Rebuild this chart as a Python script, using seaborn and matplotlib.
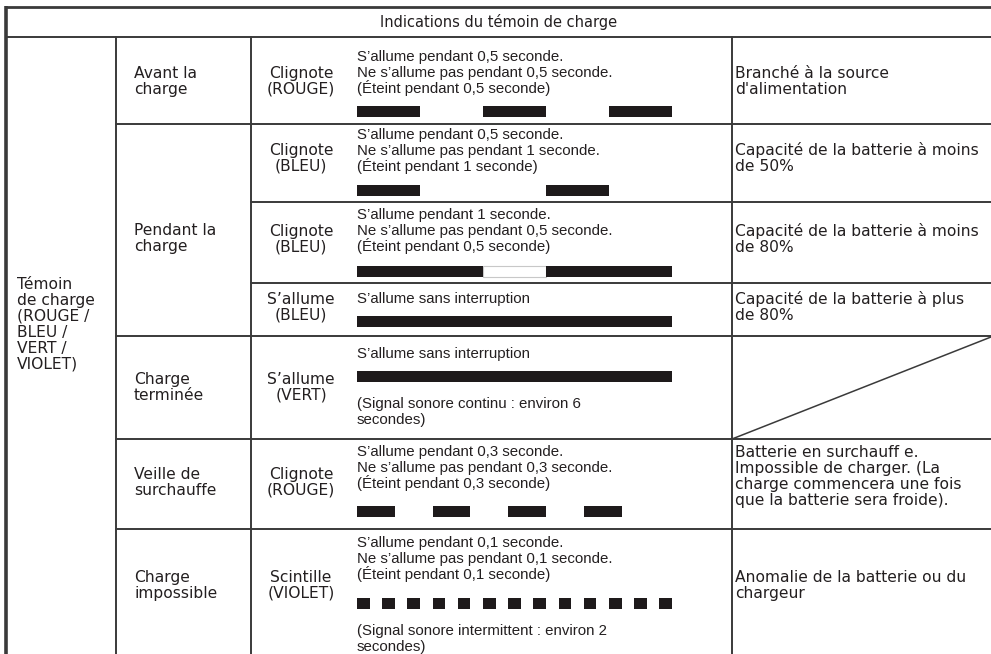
import matplotlib
matplotlib.use("Agg")
import matplotlib.pyplot as plt
import seaborn as sns

# ---------------- data ----------------
title = "Indications du témoin de charge"
group_label = "Témoin\nde charge\n(ROUGE /\nBLEU /\nVERT /\nVIOLET)"
states = ["Avant la\ncharge", "Pendant la\ncharge", "Charge\nterminée",
          "Veille de\nsurchauffe", "Charge\nimpossible"]
modes = ["Clignote\n(ROUGE)", "Clignote\n(BLEU)", "Clignote\n(BLEU)",
         "S’allume\n(BLEU)", "S’allume\n(VERT)", "Clignote\n(ROUGE)",
         "Scintille\n(VIOLET)"]
descriptions = [
    "S’allume pendant 0,5 seconde.\nNe s’allume pas pendant 0,5 seconde.\n(Éteint pendant 0,5 seconde)",
    "S’allume pendant 0,5 seconde.\nNe s’allume pas pendant 1 seconde.\n(Éteint pendant 1 seconde)",
    "S’allume pendant 1 seconde.\nNe s’allume pas pendant 0,5 seconde.\n(Éteint pendant 0,5 seconde)",
    "S’allume sans interruption",
    "S’allume sans interruption",
    "S’allume pendant 0,3 seconde.\nNe s’allume pas pendant 0,3 seconde.\n(Éteint pendant 0,3 seconde)",
    "S’allume pendant 0,1 seconde.\nNe s’allume pas pendant 0,1 seconde.\n(Éteint pendant 0,1 seconde)",
]
notes = ["", "", "", "", "(Signal sonore continu : environ 6\nsecondes)", "",
         "(Signal sonore intermittent : environ 2\nsecondes)"]
results = [
    "Branché à la source\nd'alimentation",
    "Capacité de la batterie à moins\nde 50%",
    "Capacité de la batterie à moins\nde 80%",
    "Capacité de la batterie à plus\nde 80%",
    "",
    "Batterie en surchauff e.\nImpossible de charger. (La\ncharge commencera une fois\nque la batterie sera froide).",
    "Anomalie de la batterie ou du\nchargeur",
]
# blink pattern in seconds: on duration, off duration, number of pulses
on_time = [0.5, 0.5, 1.0, 2.5, 2.5, 0.3, 0.1]
off_time = [0.5, 1.0, 0.5, 0.0, 0.0, 0.3, 0.1]
pulses = [3, 2, 2, 1, 1, 4, 13]
timeline_span = 2.5  # seconds shown across the cell

# ---------------- layout (pixels) ----------------
W, H = 991, 654
L, R = 6, 991
top, title_bot = 7, 37
x_c1, x_c2, x_c4 = 116, 251, 732
row_lines = [124, 202, 283, 336, 439, 529]
row_line_start = [x_c1, x_c2, x_c2, x_c1, x_c1, x_c1]
state_y = [72, 229, 378, 473, 576]
desc_y = [56, 134, 214, 298, 353, 451, 542]
bar_y = [111.5, 190, 271, 321.5, 376, 511, 603]
note_y = [0, 0, 0, 0, 403, 0, 630]
mode_y = [72, 149, 230, 298, 378, 473, 576]
result_y = [72, 149, 230, 298, 0, 451, 576]
LS = 16          # line step
BAR_H = 11
TXT = "#231f20"
LINE = "#3a3a3a"

sns.set_theme(style="white")
plt.rcParams["font.family"] = ["Liberation Sans", "DejaVu Sans"]
NARROW = ["Liberation Sans", "DejaVu Sans"]
WIDE = ["DejaVu Sans"]
FS_DESC = 10.8
FS_WIDE = 11.2
FS_TITLE = 10.5

fig = plt.figure(figsize=(W / 100, H / 100), dpi=100)
ax = fig.add_axes([0, 0, 1, 1])
ax.set_xlim(0, W)
ax.set_ylim(H, 0)
ax.axis("off")


def put(text, x, y, ha="left", fs=FS_WIDE, fam=WIDE):
    off = 0.36 * fs * 100 / 72
    for i, line in enumerate(text.split("\n")):
        ax.text(x, y + off + i * LS, line, ha=ha, va="baseline",
                fontsize=fs, color=TXT, family=fam)


# grid lines
ax.plot([L, R], [top, top], color=LINE, lw=2.0, solid_capstyle="butt")
ax.plot([L, L], [top - 1, H], color=LINE, lw=2.6, solid_capstyle="butt")
ax.plot([L, R], [title_bot, title_bot], color=LINE, lw=1.4)
for xv in (x_c1, x_c2, x_c4):
    ax.plot([xv, xv], [title_bot, H], color=LINE, lw=1.4)
for yv, xs in zip(row_lines, row_line_start):
    ax.plot([xs, R], [yv, yv], color=LINE, lw=1.4)
# diagonal in the empty result cell
ax.plot([x_c4, R], [row_lines[4], row_lines[3] + 1], color=LINE, lw=1.1)

# texts
put(title, (L + R) / 2, 22, ha="center", fs=FS_TITLE)
put(group_label, 17, 283)
for s, y in zip(states, state_y):
    put(s, 134, y)
for i in range(len(modes)):
    put(modes[i], 301, mode_y[i], ha="center")
    put(descriptions[i], 357, desc_y[i], fs=FS_DESC, fam=NARROW)
    if notes[i]:
        put(notes[i], 357, note_y[i], fs=FS_DESC, fam=NARROW)
    if results[i]:
        put(results[i], 735, result_y[i])

# timelines: x axis in seconds
t0_px, sec_px = 357, 126
axt = fig.add_axes([t0_px / W, 0, timeline_span * sec_px / W, 1])
axt.set_xlim(0, timeline_span)
axt.set_ylim(H, 0)
axt.axis("off")
axt.patch.set_alpha(0)
for i in range(len(on_time)):
    period = on_time[i] + off_time[i]
    spans = [(k * period, on_time[i]) for k in range(pulses[i])]
    if i == 2:  # off gap drawn as a light outlined box
        axt.broken_barh([(on_time[i], off_time[i])],
                        (bar_y[i] - BAR_H / 2, BAR_H),
                        facecolor="white", edgecolor="#c8c8c8", lw=0.8)
    axt.broken_barh(spans, (bar_y[i] - BAR_H / 2, BAR_H),
                    facecolor="#1e1a1b", edgecolor="none")

fig.savefig("out.png", dpi=100)
